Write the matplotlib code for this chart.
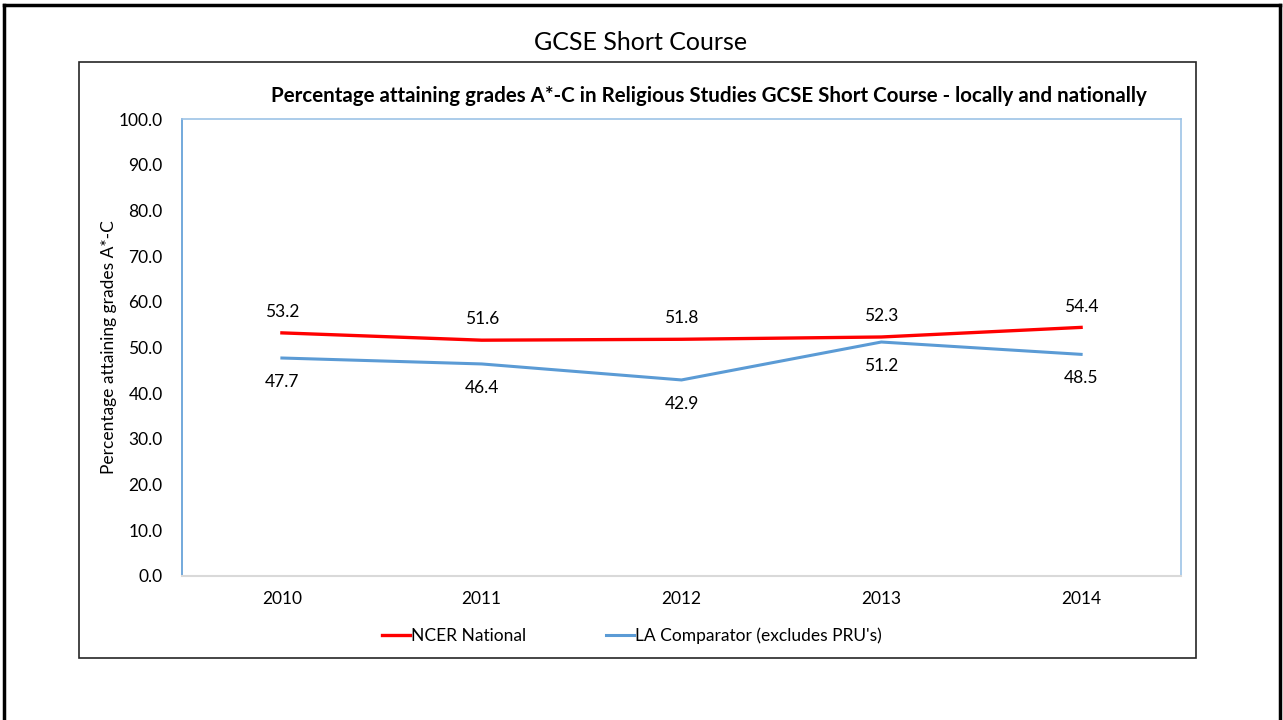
import matplotlib.pyplot as plt
from matplotlib.lines import Line2D
from matplotlib.patches import Rectangle

plt.rcParams['font.family'] = ['Lato', 'DejaVu Sans']

years = ['2010', '2011', '2012', '2013', '2014']
ncer_national = [53.2, 51.6, 51.8, 52.3, 54.4]
la_comparator = [47.7, 46.4, 42.9, 51.2, 48.5]
y_ticks = [0, 10, 20, 30, 40, 50, 60, 70, 80, 90, 100]

W, H = 1283, 720
fig = plt.figure(figsize=(W / 100, H / 100), dpi=100)

# outer frame (left, top, right)
fig.add_artist(Line2D([4 / W, 4 / W], [0, 1 - 5 / H], color='black', lw=2.5, transform=fig.transFigure))
fig.add_artist(Line2D([4 / W, 1280 / W], [1 - 5 / H, 1 - 5 / H], color='black', lw=2.5, transform=fig.transFigure))
fig.add_artist(Line2D([1280 / W, 1280 / W], [0, 1 - 5 / H], color='black', lw=2.5, transform=fig.transFigure))

# chart box
fig.add_artist(Rectangle((79 / W, 1 - 658 / H), (1196 - 79) / W, (658 - 62) / H,
                         fill=False, edgecolor='#262626', lw=1.2, transform=fig.transFigure))

fig.text(641 / W, 1 - 42 / H, 'GCSE Short Course', ha='center', va='center', fontsize=18)

ax = fig.add_axes([182 / W, 1 - 576 / H, (1181 - 182) / W, (576 - 119) / H])
x = range(len(years))
ax.plot(x, ncer_national, color='#FF0000', lw=2.4, label='NCER National')
ax.plot(x, la_comparator, color='#5B9BD5', lw=2.2, label="LA Comparator (excludes PRU's)")

for i in x:
    ax.annotate(f'{ncer_national[i]:.1f}', (i, ncer_national[i]), xytext=(0, 15),
                textcoords='offset points', ha='center', va='center', fontsize=12.5)
    ax.annotate(f'{la_comparator[i]:.1f}', (i, la_comparator[i]), xytext=(0, -17),
                textcoords='offset points', ha='center', va='center', fontsize=12.5)

ax.set_xlim(-0.5, 4.5)
ax.set_ylim(0, 100)
ax.set_xticks(list(x))
ax.set_xticklabels(years)
ax.set_yticks(y_ticks)
ax.set_yticklabels([f'{v:.1f}' for v in y_ticks])
ax.tick_params(length=0, labelsize=12.5, pad=14)
ax.tick_params(axis='x', pad=11)
for side in ['left', 'top', 'right']:
    ax.spines[side].set_color('#9DC3E6')
    ax.spines[side].set_linewidth(1.2)
ax.spines['left'].set_color('#5B9BD5')
ax.spines['bottom'].set_color('#D9D9D9')
ax.spines['bottom'].set_linewidth(1.5)

ax.set_ylabel('Percentage attaining grades A*-C', fontsize=12.5, labelpad=1)

fig.text(709 / W, 1 - 96 / H,
         'Percentage attaining grades A*-C in Religious Studies GCSE Short Course - locally and nationally',
         ha='center', va='center', fontsize=14.8, fontweight='bold')

ax.legend(loc='center', bbox_to_anchor=(632 / W, 1 - 636 / H), bbox_transform=fig.transFigure,
          ncol=2, frameon=False, fontsize=12.5, handlelength=1.6, handletextpad=0.05,
          columnspacing=4.6)

fig.savefig('out.png', dpi=100)
